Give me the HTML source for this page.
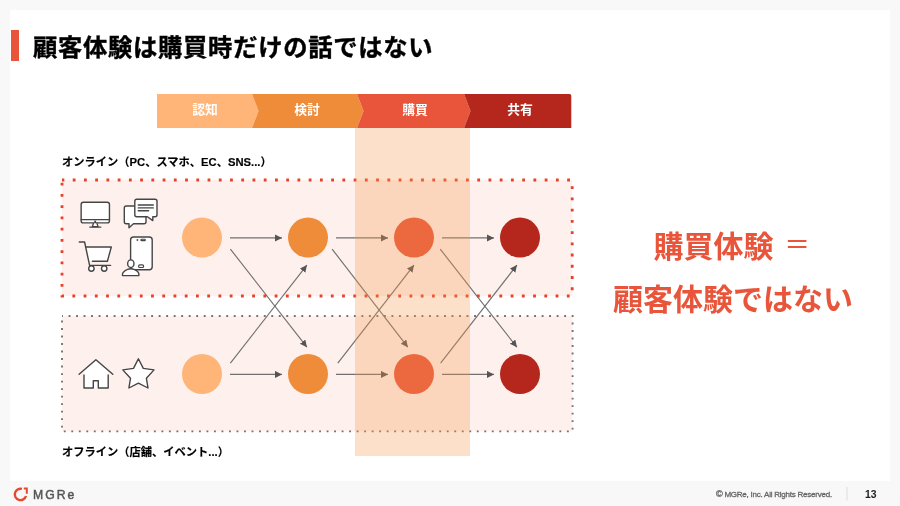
<!DOCTYPE html>
<html lang="ja">
<head>
<meta charset="utf-8">
<style>
*{margin:0;padding:0;box-sizing:border-box;}
html,body{width:900px;height:506px;overflow:hidden;background:#f8f8f8;}
body{position:relative;font-family:"Liberation Sans","Noto Sans CJK JP",sans-serif;}
.slide{position:absolute;left:10px;top:10px;width:879.5px;height:471px;background:#fff;}
.t{position:absolute;white-space:nowrap;line-height:1;will-change:transform;}
#bar{position:absolute;left:11px;top:30px;width:8px;height:31px;background:#e9553a;}
#title{left:33px;top:34.2px;font-size:24.3px;letter-spacing:0.72px;font-weight:700;color:#000;-webkit-text-stroke:0.4px #000;font-family:"Noto Sans CJK JP",sans-serif;}
.lbl{font-size:11.25px;font-weight:700;color:#000;-webkit-text-stroke:0.15px #000;font-family:"Liberation Sans","Noto Sans CJK JP",sans-serif;}
.ph{font-size:12.8px;font-weight:700;color:#fff;font-family:"Noto Sans CJK JP",sans-serif;transform:translateX(-50%);}
.big{font-size:30px;font-weight:700;color:#e9553a;font-family:"Noto Sans CJK JP",sans-serif;transform:translateX(-50%);}
svg{position:absolute;left:0;top:0;}
</style>
</head>
<body>
<div class="slide"></div>
<div id="bar"></div>
<div class="t" id="title">顧客体験は購買時だけの話ではない</div>

<svg width="900" height="506" viewBox="0 0 900 506">
  <!-- phase bar -->
  <polygon points="157,94 252,94 258.5,111 252,128 157,128" fill="#feb577"/>
  <polygon points="252,94 357,94 363.5,111 357,128 252,128 258.5,111" fill="#ef8c3a"/>
  <polygon points="357,94 464,94 470.5,111 464,128 357,128 363.5,111" fill="#e9553a"/>
  <path d="M464,94 H569.6 Q571.3,94 571.3,95.7 V128 H464 L470.5,111 Z" fill="#b5271c"/>

  <!-- boxes -->
  <rect x="62" y="180" width="510.2" height="116" fill="#fef0ed"/>
  <rect x="62" y="180" width="510.2" height="116" fill="none" stroke="#e8402a" stroke-width="2.8" stroke-dasharray="2.8 8.437" stroke-dashoffset="0.5"/>
  <rect x="62" y="316" width="510.6" height="115.4" fill="#fef0ed"/>
  <rect x="62" y="316" width="510.6" height="115.4" fill="none" stroke="#737373" stroke-width="1.9" stroke-dasharray="1.88 5.629" stroke-dashoffset="0.94"/>

  <!-- arrows -->
  <defs>
    <marker id="ah" markerUnits="userSpaceOnUse" markerWidth="8" markerHeight="8" refX="7" refY="3.5" orient="auto">
      <path d="M0,0 L7,3.5 L0,7 Z" fill="#555"/>
    </marker>
  </defs>
  <g stroke="#707070" stroke-width="1.15" fill="none" marker-end="url(#ah)">
    <line x1="230" y1="237.9" x2="282" y2="237.9"/>
    <line x1="336" y1="237.9" x2="388" y2="237.9"/>
    <line x1="442" y1="237.9" x2="494" y2="237.9"/>
    <line x1="230" y1="374.4" x2="282" y2="374.4"/>
    <line x1="336" y1="374.4" x2="388" y2="374.4"/>
    <line x1="442" y1="374.4" x2="494" y2="374.4"/>
    <line x1="230.4" y1="249.1" x2="306.9" y2="347.2"/>
    <line x1="332.1" y1="249.1" x2="407.8" y2="347.2"/>
    <line x1="440.2" y1="249.1" x2="516.9" y2="347.2"/>
    <line x1="230.4" y1="363.2" x2="306.9" y2="265.1"/>
    <line x1="337.8" y1="363.2" x2="414" y2="265.1"/>
    <line x1="440.6" y1="363.2" x2="516.9" y2="265.1"/>
  </g>

  <!-- circles -->
  <circle cx="202" cy="237.6" r="20" fill="#feb577"/>
  <circle cx="308" cy="237.6" r="20" fill="#ef8c3a"/>
  <circle cx="414" cy="237.6" r="20" fill="#e9553a"/>
  <circle cx="520" cy="237.6" r="20" fill="#b5271c"/>
  <circle cx="202" cy="374" r="20" fill="#feb577"/>
  <circle cx="308" cy="374" r="20" fill="#ef8c3a"/>
  <circle cx="414" cy="374" r="20" fill="#e9553a"/>
  <circle cx="520" cy="374" r="20" fill="#b5271c"/>

  <!-- highlight column overlay -->
  <rect x="355" y="128" width="115" height="328" fill="#f5984b" fill-opacity="0.3"/>

  <!-- icons -->
  <g fill="#fff" stroke="#454545" stroke-width="1.4" stroke-linejoin="round" stroke-linecap="round">
    <!-- monitor -->
    <rect x="81.15" y="202.3" width="28.3" height="20.6" rx="2.2"/>
    <line x1="81.15" y1="219.6" x2="109.45" y2="219.6"/>
    <path d="M93.4,223.4 L92.4,226.6 L98,226.6 L97,223.4"/>
    <line x1="89.8" y1="227.1" x2="100.8" y2="227.1"/>
    <line x1="95.2" y1="220.6" x2="95.2" y2="223" stroke-width="1.8" stroke-linecap="butt"/>
    <!-- chat -->
    <path d="M126.5,206 H144 a2,2 0 0 1 2,2 V221.8 a2,2 0 0 1 -2,2 H133.5 L129,227.8 V223.8 H126.3 a2,2 0 0 1 -2,-2 V208 a2,2 0 0 1 2,-2 Z"/>
    <path d="M137,199.2 H155 a2,2 0 0 1 2,2 V214.7 a2,2 0 0 1 -2,2 H152.8 V220.6 L147.4,216.7 H136.8 a2,2 0 0 1 -2,-2 V201.2 a2,2 0 0 1 2,-2 Z"/>
    <line x1="138.3" y1="205" x2="153.3" y2="205"/>
    <line x1="138.3" y1="207.9" x2="153.3" y2="207.9"/>
    <line x1="138.3" y1="210.8" x2="148.6" y2="210.8"/>
    <!-- cart -->
    <path d="M85.8,247 H111.3 L107.4,261.2 H88.7 Z" stroke="none"/>
    <path d="M79.3,242 H84.6 L89.6,265.4 H110.6" fill="none"/>
    <path d="M85.8,247 H111.3 L107.4,261.2 H92.4" fill="none"/>
    <circle cx="91.4" cy="268.6" r="2.7"/>
    <circle cx="104.2" cy="268.6" r="2.7"/>
    <!-- phone -->
    <rect x="130.6" y="237" width="21.6" height="32.8" rx="3"/>
    <circle cx="137.4" cy="239.95" r="0.95" fill="#555" stroke="none"/>
    <rect x="140.9" y="239.3" width="4.4" height="1.3" rx="0.65" stroke-width="1.1"/>
    <rect x="138.6" y="264.9" width="5" height="2.6" rx="1.3" stroke-width="1.2"/>
    <!-- person -->
    <path d="M122.5,275.6 V274.3 C122.5,272.2 124,270.9 127.6,269.3 Q130.8,268.3 134,269.3 C137.6,270.9 138.9,272.2 138.9,274.3 V275.6 Z"/>
    <ellipse cx="130.8" cy="263.7" rx="3.15" ry="3.8"/>
    <!-- house -->
    <path d="M84,370 L95.9,359.7 L108.2,370.3 V388 H84 Z" stroke="none"/>
    <path d="M84,375 V388 H93.3 V380.7 H98.3 V388 H108.2 V375"/>
    <path d="M79.1,374.2 L95.9,359.8 L112.8,374.2" fill="none"/>
    <!-- star -->
    <path d="M138.4,358.8 L143.3,368.4 L154,369.9 L146.4,378.3 L148,388 L138.4,383.1 L128.9,388 L130.5,378.3 L122.8,369.9 L133.5,368.4 Z"/>
  </g>
</svg>

<!-- phase labels -->
<div class="t ph" style="left:204.85px;top:103.3px;">認知</div>
<div class="t ph" style="left:306.65px;top:103.3px;">検討</div>
<div class="t ph" style="left:415.2px;top:103.3px;">購買</div>
<div class="t ph" style="left:520.35px;top:103.3px;">共有</div>

<div class="t lbl" style="left:62.4px;top:156.8px;">オンライン（PC、スマホ、EC、SNS...）</div>
<div class="t lbl" style="left:62.4px;top:446.8px;">オフライン（店舗、イベント...）</div>

<div class="t big" style="left:731.5px;top:228.6px;">購買体験 <span style="font-weight:500;display:inline-block;transform:translate(1.5px,-0.7px) scale(0.86,0.82);">＝</span></div>
<div class="t big" style="left:732.5px;top:281.6px;">顧客体験ではない</div>

<!-- footer -->
<svg width="900" height="506" viewBox="0 0 900 506" style="pointer-events:none">
  <path d="M21.9,488.87 A5.7,5.7 0 1 0 25.98,495.97" fill="none" stroke="#e8482f" stroke-width="2.4"/>
  <path d="M23.8,487.4 H27.8 V493.7 H25.8 V489.4 H23.8 Z" fill="#e8482f"/>
  <line x1="847" y1="487" x2="847" y2="500.5" stroke="#ddd" stroke-width="1"/>
</svg>
<div class="t" style="left:32.7px;top:489.1px;font-size:12.2px;letter-spacing:2.0px;font-weight:400;-webkit-text-stroke:0.45px #555;color:#555;font-family:'Liberation Sans',sans-serif;">MGRe</div>
<div class="t" style="left:716px;top:489.8px;font-size:8px;letter-spacing:-0.23px;-webkit-text-stroke:0.3px #666;color:#666;font-family:'Liberation Sans',sans-serif;"><span style="font-size:9.2px;letter-spacing:1.6px;">©</span>MGRe, Inc. All Rights Reserved.</div>
<div class="t" style="left:865.3px;top:489.6px;font-size:10.4px;font-weight:700;color:#222;font-family:'Liberation Sans',sans-serif;">13</div>
</body>
</html>
